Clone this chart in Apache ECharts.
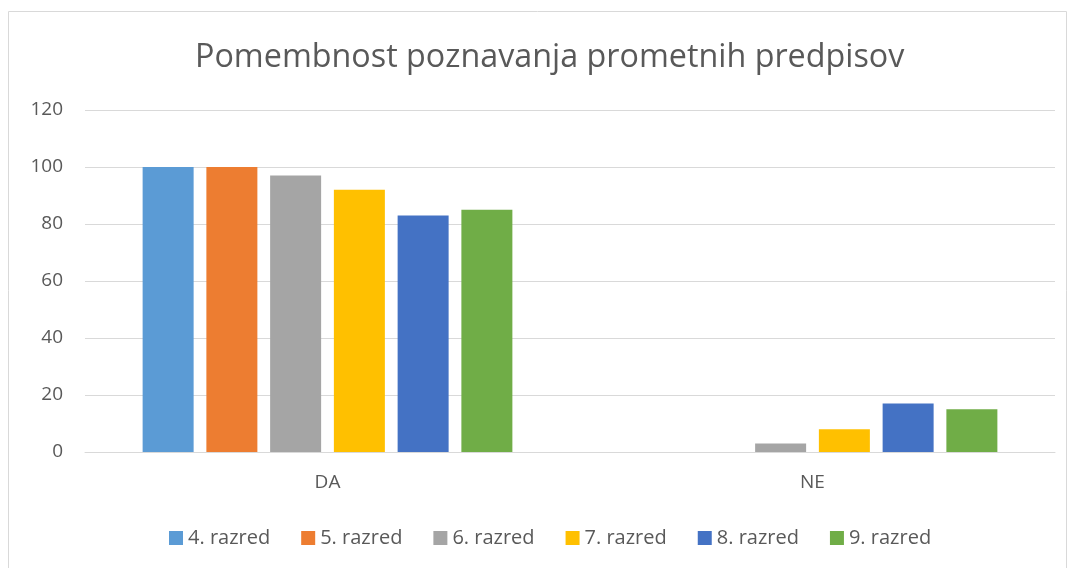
<!DOCTYPE html>
<html>
<head>
<meta charset="utf-8">
<script src="https://cdn.jsdelivr.net/npm/echarts@6/dist/echarts.min.js"></script>
<style>
  html, body { margin: 0; padding: 0; background: #fff; }
  #chart { width: 1073px; height: 568px; }
</style>
</head>
<body>
<div id="chart"></div>
<script>
const categories = ["DA", "NE"];
const seriesNames = ["4. razred", "5. razred", "6. razred", "7. razred", "8. razred", "9. razred"];
const colors = ["#5b9bd5", "#ed7d31", "#a5a5a5", "#ffc000", "#4472c4", "#70ad47"];
const razred4 = [100, 0];
const razred5 = [100, 0];
const razred6 = [97, 3];
const razred7 = [92, 8];
const razred8 = [83, 17];
const razred9 = [85, 15];
const values = [razred4, razred5, razred6, razred7, razred8, razred9];

const font = "Open Sans";
const chart = echarts.init(document.getElementById("chart"));

const option = {
  animation: false,
  color: colors,
  title: {
    text: "Pomembnost poznavanja prometnih predpisov",
    left: 190,
    top: 37,
    textStyle: { fontFamily: font, fontSize: 32.3, fontWeight: "normal", color: "#595959" },
  },
  graphic: [{
    type: "rect",
    shape: { x: 8.5, y: 11.5, width: 1058, height: 570 },
    style: { fill: "none", stroke: "#d9d9d9", lineWidth: 1 },
    silent: true,
  }],
  legend: {
    top: 523,
    left: 164,
    itemWidth: 14,
    itemHeight: 14,
    itemGap: 31,
    icon: "rect",
    textStyle: { fontFamily: font, fontSize: 20, color: "#595959" },
    data: seriesNames,
  },
  grid: { left: 85, right: 18, top: 110, bottom: 116 },
  xAxis: {
    type: "category",
    data: categories,
    axisLine: { lineStyle: { color: "#d9d9d9" } },
    axisTick: { show: false },
    axisLabel: { fontFamily: font, fontSize: 19, color: "#595959", margin: 21 },
  },
  yAxis: {
    type: "value",
    min: 0,
    max: 120,
    interval: 20,
    axisLine: { show: false },
    axisTick: { show: false },
    splitLine: { lineStyle: { color: "#d9d9d9" } },
    axisLabel: { fontFamily: font, fontSize: 19, color: "#595959", margin: 22 },
  },
  series: seriesNames.map((name, i) => ({
    name: name,
    type: "bar",
    data: values[i],
    barWidth: 51,
    barGap: "25%",
  })),
};

chart.setOption(option);
</script>
</body>
</html>
